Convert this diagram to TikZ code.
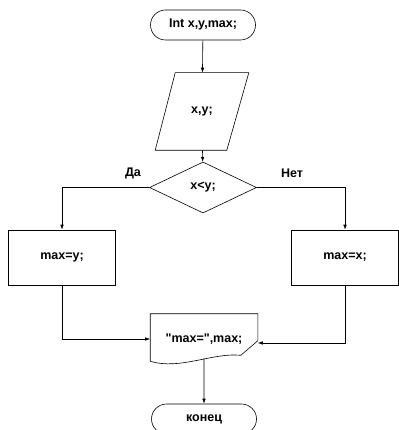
\documentclass[tikz,border=0pt]{standalone}
\usepackage{fontspec}
\setsansfont{Liberation Sans}[Ligatures=TeXOff]
\usetikzlibrary{shapes.geometric,shapes.misc,arrows.meta}
\begin{document}
\begin{tikzpicture}[x=1pt,y=-1pt,font=\sffamily\bfseries\fontsize{12.5}{14}\selectfont,
 line width=0.6pt,
 arr/.style={-{Latex[length=5pt,width=3.5pt]}},
 term/.style={draw,rounded rectangle,minimum width=105pt,minimum height=30pt,inner sep=0pt},
 inbox/.style={minimum width=73pt,minimum height=77pt,inner sep=0pt},
 cond/.style={draw,diamond,minimum width=107pt,minimum height=51pt,inner sep=0pt},
 act/.style={draw,rectangle,minimum width=107pt,minimum height=55pt,inner sep=0pt},
 outbox/.style={minimum width=107pt,minimum height=50pt,inner sep=0pt}]

\useasboundingbox (0,0) rectangle (398,430);
%
\node[term] (start) at (203,25) {Int x,y,max;};
\node[inbox] (inp) at (202,111.5) {x,y;};
\node[cond] (test) at (203,187.5) {x<y;};
\node[act] (yes) at (62,257.5) {max=y;};
\node[act] (no) at (345,257.5) {max=x;};
\node[outbox] (out) at (204,339) {"max=",max;};
\node[term] (stop) at (204,419) {конец};
%
\node (lyes) at (133,173) {Да};
\node (lno) at (292,173) {Нет};
%
\draw ([xshift=10pt]inp.north west) -- ([xshift=10pt]inp.north east)
 -- ([xshift=-12pt]inp.south east) -- ([xshift=-10pt]inp.south west) -- cycle;
\draw (out.north west) -- (out.north east) -- ([yshift=-27pt]out.north east)
 -- ([xshift=-17pt,yshift=9pt]out.south east)
 .. controls ([xshift=-45pt,yshift=12pt]out.south east) and ([xshift=30pt,yshift=-6pt]out.south west)
 .. ([yshift=3pt]out.south west) -- cycle;
%
\draw[arr] (start) -- (inp);
\draw[arr] (inp) -- (test);
\draw[arr] (test.west) -| (yes.north);
\draw[arr] (test.east) -| (no.north);
\draw[arr] (yes.south) |- (out.west);
\draw[arr] (no.south) |- ([yshift=-4pt]out.east);
\draw[arr] ([yshift=6pt]out.south) -- (stop);
\end{tikzpicture}
\end{document}
